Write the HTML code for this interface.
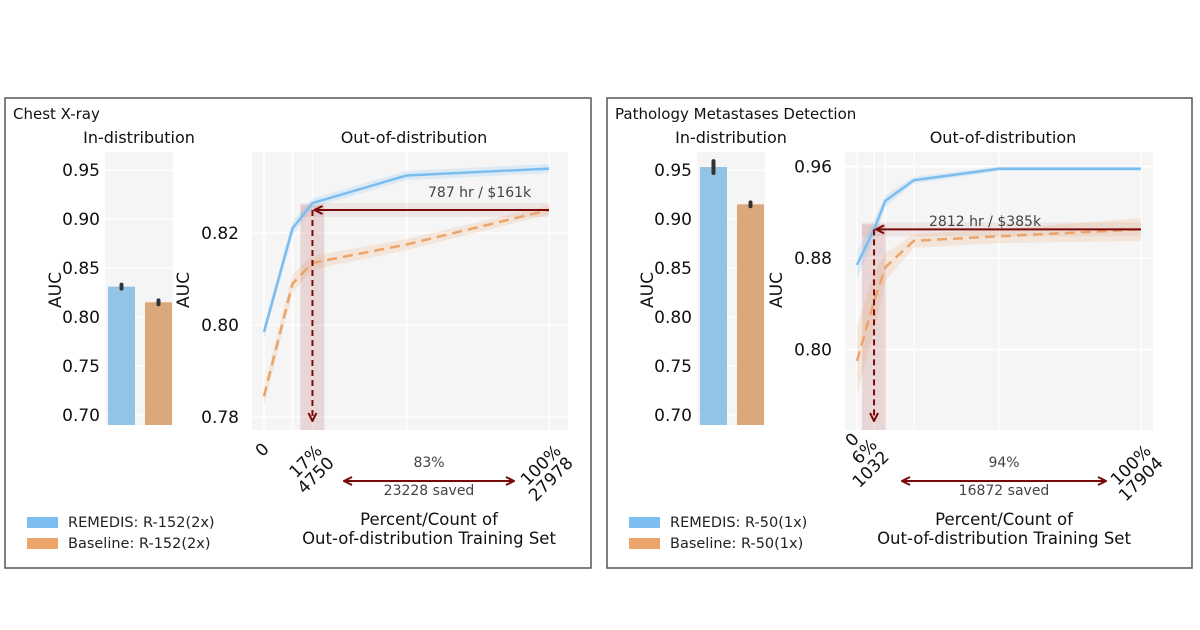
<!DOCTYPE html>
<html><head><meta charset="utf-8"><style>
html,body{margin:0;padding:0;background:#fff;}
svg{display:block;font-family:"DejaVu Sans","Liberation Sans",sans-serif;}
</style></head><body>
<svg id="fig" width="1200" height="630" viewBox="0 0 1200 630"></svg>
<script>
// ---- Chest X-ray data ----
const cxrBarLabels = ["REMEDIS", "Baseline"];
const cxrBarValues = [0.831, 0.815];
const cxrBarErr = [0.002, 0.002];
const cxrFractions = [0, 0.1, 0.17, 0.5, 1.0];
const cxrRemedis = [0.7985, 0.821, 0.8265, 0.8325, 0.834];
const cxrBaseline = [0.7845, 0.809, 0.8135, 0.8175, 0.825];
const cxrYTicksBar = [0.70, 0.75, 0.80, 0.85, 0.90, 0.95];
const cxrYTicksOod = [0.78, 0.80, 0.82];
// ---- Pathology data ----
const pathBarLabels = ["REMEDIS", "Baseline"];
const pathBarValues = [0.953, 0.915];
const pathBarErr = [0.006, 0.002];
const pathFractions = [0, 0.06, 0.1, 0.2, 0.5, 1.0];
const pathRemedis = [0.874, 0.905, 0.930, 0.948, 0.958, 0.958];
const pathBaseline = [0.790, 0.842, 0.872, 0.895, 0.899, 0.905];
const pathYTicksBar = [0.70, 0.75, 0.80, 0.85, 0.90, 0.95];
const pathYTicksOod = [0.80, 0.88, 0.96];

const NS = "http://www.w3.org/2000/svg";
const svg = document.getElementById("fig");
function mk(tag, attrs, parent, text) {
  const e = document.createElementNS(NS, tag);
  for (const k in attrs) e.setAttribute(k, attrs[k]);
  if (text !== undefined) e.textContent = text;
  (parent || svg).appendChild(e);
  return e;
}
const defs = mk("defs", {});
const mkr = mk("marker", {id: "ah", markerWidth: 10, markerHeight: 10, refX: 8, refY: 5, orient: "auto-start-reverse", markerUnits: "userSpaceOnUse"}, defs);
mk("path", {d: "M1,1 L9,5 L1,9", fill: "none", stroke: "#7a0a0a", "stroke-width": 2}, mkr);

function panel(c) {
  const g = mk("g", {});
  
  
  const fr = mk("rect", {x: c.fx, y: 98, width: c.fw, height: 470, fill: "none", stroke: "#555", "stroke-width": 1.5}, g);
  
  
  const t = mk("text", {x: c.fx + 8, y: 119, "font-size": 15, fill: "#111"}, g, c.title);
  
  

  // bar chart
  const bx0 = c.bx, bx1 = c.bx + 68, by = v => 415 - (v - 0.70) / 0.05 * 49;
  const st = mk("text", {x: c.bx + 34, y: 143, "font-size": 16, "text-anchor": "middle", fill: "#111"}, g, "In-distribution");
  
  
  mk("rect", {x: bx0, y: 152, width: 68, height: 273, fill: "#f5f5f5"}, g);
  c.yTicksBar.forEach(v => {
    mk("line", {x1: bx0, x2: bx1, y1: by(v), y2: by(v), stroke: "#fff", "stroke-width": 1.5}, g);
    const tl = mk("text", {x: bx0 - 5, y: by(v) + 6, "font-size": 17, "text-anchor": "end", fill: "#111"}, g, v.toFixed(2));
    
    
  });
  const ya = mk("text", {x: 0, y: 0, "font-size": 17, "text-anchor": "middle", fill: "#111", transform: `translate(${bx0 - 44},290) rotate(-90)`}, g, "AUC");
  
  
  const cols = ["#93c4e6", "#dba87c"];
  c.barValues.forEach((v, i) => {
    const x = bx0 + 3 + i * 37;
    const r = mk("rect", {x: x, y: by(v), width: 27, height: 425 - by(v), fill: cols[i]}, g);
    
    
    mk("line", {x1: x + 13.5, x2: x + 13.5, y1: by(v + c.barErr[i]), y2: by(v - c.barErr[i]), stroke: "#333", "stroke-width": 4, "stroke-linecap": "round"}, g);
  });

  // OOD chart
  const ox0 = c.ox0, ox1 = c.ox1;
  const X = f => c.px0 + f * (c.px1 - c.px0);
  const Y = v => c.yRef - (v - c.vRef) / c.vStep * c.pxStep;
  const ot = mk("text", {x: (ox0 + ox1) / 2 + 4, y: 143, "font-size": 16, "text-anchor": "middle", fill: "#111"}, g, "Out-of-distribution");
  
  
  mk("rect", {x: ox0, y: 152, width: ox1 - ox0, height: 278, fill: "#f5f5f5"}, g);
  c.fractions.forEach(f => mk("line", {x1: X(f), x2: X(f), y1: 152, y2: 430, stroke: "#fff", "stroke-width": 1.5}, g));
  c.yTicksOod.forEach(v => {
    mk("line", {x1: ox0, x2: ox1, y1: Y(v), y2: Y(v), stroke: "#fff", "stroke-width": 1.5}, g);
    const tl = mk("text", {x: ox0 - 13, y: Y(v) + 6, "font-size": 17, "text-anchor": "end", fill: "#111"}, g, v.toFixed(2));
    
    
  });
  const ya2 = mk("text", {x: 0, y: 0, "font-size": 17, "text-anchor": "middle", fill: "#111", transform: `translate(${ox0 - 63},290) rotate(-90)`}, g, "AUC");
  
  

  // highlight bands
  const hx = X(c.fractions[c.hi]);
  const hy = Y(c.baseline[c.baseline.length - 1]);
  mk("rect", {x: hx - 12, y: hy - 5, width: 24, height: 430 - hy + 5, fill: "#a33", opacity: 0.16}, g);
  mk("rect", {x: hx - 12, y: hy - 7, width: X(1) - hx + 12, height: 14, fill: "#a33", opacity: 0.08}, g);

  function series(vals, color, dash, band, name) {
    const up = vals.map((v, i) => `${X(c.fractions[i])},${Y(v + band[i])}`);
    const dn = vals.map((v, i) => `${X(c.fractions[i])},${Y(v - band[i])}`).reverse();
    mk("polygon", {points: up.concat(dn).join(" "), fill: color, opacity: 0.2}, g);
    const l = mk("polyline", {points: vals.map((v, i) => `${X(c.fractions[i])},${Y(v)}`).join(" "), fill: "none", stroke: color, "stroke-width": 2.5, "stroke-dasharray": dash}, g);
    
    
  }
  series(c.remedis, "#7cbdf0", "none", c.bandR, "remedis-line");
  series(c.baseline, "#eba56a", "10 6", c.bandB, "baseline-line");

  // arrows
  const ha = mk("line", {x1: X(1), y1: hy, x2: hx + 3, y2: hy, stroke: "#7a0a0a", "stroke-width": 2, "marker-end": "url(#ah)"}, g);
  
  
  const va = mk("line", {x1: hx, y1: hy, x2: hx, y2: 420, stroke: "#7a0a0a", "stroke-width": 2, "stroke-dasharray": "6 4", "marker-end": "url(#ah)"}, g);
  
  
  const cost = mk("text", {x: c.costX, y: c.costY, "font-size": 14, fill: "#444"}, g, c.cost);
  
  

  // x tick labels
  c.xLabels.forEach(L => {
    const tg = mk("g", {transform: `translate(${L.x},${L.y}) rotate(-45)`}, g);
    
    
    L.lines.forEach((s, k) => mk("text", {x: 0, y: k * 17, "font-size": 17, "text-anchor": "end", fill: "#111"}, tg, s));
  });
  const da = mk("line", {x1: c.dax0, y1: 481, x2: c.dax1, y2: 481, stroke: "#7a0a0a", "stroke-width": 2, "marker-start": "url(#ah)", "marker-end": "url(#ah)"}, g);
  
  
  const cx = (c.dax0 + c.dax1) / 2;
  const pct = mk("text", {x: cx, y: 467, "font-size": 14, "text-anchor": "middle", fill: "#444"}, g, c.pct);
  
  
  const sv = mk("text", {x: cx, y: 495, "font-size": 14, "text-anchor": "middle", fill: "#444"}, g, c.saved);
  
  
  const xt1 = mk("text", {x: cx, y: 525, "font-size": 16.5, "text-anchor": "middle", fill: "#111"}, g, "Percent/Count of");
  
  
  mk("text", {x: cx, y: 544, "font-size": 16.5, "text-anchor": "middle", fill: "#111"}, g, "Out-of-distribution Training Set");

  // legend
  [["#7cbdf0", c.leg[0], 517], ["#eba56a", c.leg[1], 538]].forEach((e, i) => {
    const lg = mk("g", {}, g);
    
    
    mk("rect", {x: c.fx + 22, y: e[2], width: 31, height: 11, fill: e[0]}, lg);
    mk("text", {x: c.fx + 63, y: e[2] + 10, "font-size": 14.5, fill: "#222"}, lg, e[1]);
  });
}

panel({id: "chest-xray", title: "Chest X-ray", fx: 5, fw: 586, bx: 105,
  barLabels: cxrBarLabels, barValues: cxrBarValues, barErr: cxrBarErr, yTicksBar: cxrYTicksBar,
  ox0: 252, ox1: 568, px0: 264, px1: 549, yRef: 233, vRef: 0.82, vStep: 0.02, pxStep: 92,
  fractions: cxrFractions, remedis: cxrRemedis, baseline: cxrBaseline, yTicksOod: cxrYTicksOod,
  bandR: [0.0015, 0.0015, 0.001, 0.001, 0.001], bandB: [0.002, 0.002, 0.0015, 0.0012, 0.001], hi: 2,
  cost: "787 hr / $161k", costX: 428, costY: 197,
  xLabels: [{x: 270, y: 450, lines: ["0"]}, {x: 323, y: 452, lines: ["17%", "4750"]}, {x: 562, y: 452, lines: ["100%", "27978"]}],
  dax0: 345, dax1: 513, pct: "83%", saved: "23228 saved",
  leg: ["REMEDIS: R-152(2x)", "Baseline: R-152(2x)"]});

panel({id: "pathology", title: "Pathology Metastases Detection", fx: 607, fw: 585, bx: 697,
  barLabels: pathBarLabels, barValues: pathBarValues, barErr: pathBarErr, yTicksBar: pathYTicksBar,
  ox0: 845, ox1: 1153, px0: 857, px1: 1141, yRef: 258, vRef: 0.88, vStep: 0.08, pxStep: 91.5,
  fractions: pathFractions, remedis: pathRemedis, baseline: pathBaseline, yTicksOod: pathYTicksOod,
  bandR: [0.012, 0.008, 0.005, 0.003, 0.002, 0.002], bandB: [0.03, 0.025, 0.012, 0.006, 0.006, 0.01], hi: 1,
  cost: "2812 hr / $385k", costX: 929, costY: 226,
  xLabels: [{x: 860, y: 440, lines: ["0"]}, {x: 878, y: 446, lines: ["6%", "1032"]}, {x: 1152, y: 452, lines: ["100%", "17904"]}],
  dax0: 903, dax1: 1105, pct: "94%", saved: "16872 saved",
  leg: ["REMEDIS: R-50(1x)", "Baseline: R-50(1x)"]});
</script>
</body></html>
